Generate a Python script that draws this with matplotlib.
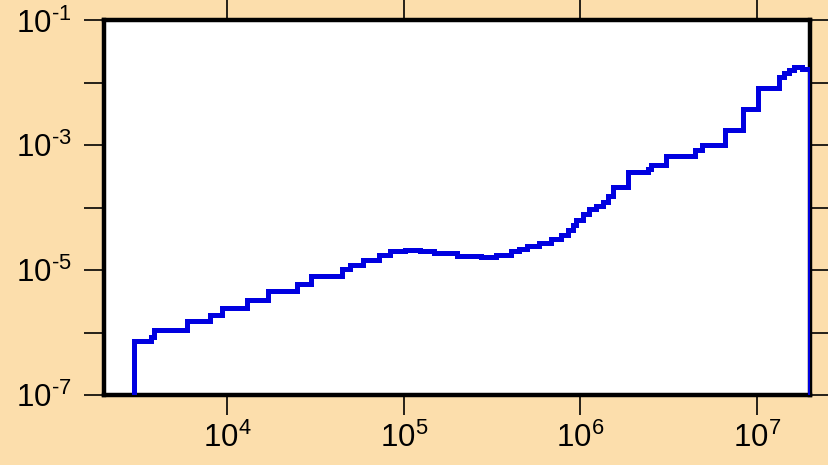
import math
import matplotlib
matplotlib.use("Agg")
import matplotlib.pyplot as plt
from matplotlib.ticker import FixedLocator, FuncFormatter, NullLocator

plt.rcParams['font.family'] = ['Liberation Sans', 'DejaVu Sans']
plt.rcParams['mathtext.fontset'] = 'custom'
plt.rcParams['mathtext.rm'] = 'Liberation Sans'
plt.rcParams['mathtext.it'] = 'Liberation Sans'
plt.rcParams['mathtext.bf'] = 'Liberation Sans'

# Histogram bin edges (x) and bin values (y)
bin_edges = [2944, 3680, 3846, 5916, 7975, 9366, 1.288e4, 1.695e4, 2.492e4, 2.993e4,
             4.49e4, 4.94e4, 5.89e4, 7.26e4, 8.36e4, 1.017e5, 1.239e5, 1.473e5, 2.003e5,
             2.718e5, 3.31e5, 4.03e5, 4.49e5, 5.01e5, 5.84e5, 6.80e5, 7.76e5, 8.47e5,
             9.04e5, 9.44e5, 1.031e6, 1.124e6, 1.227e6, 1.340e6, 1.430e6, 1.527e6,
             1.858e6, 2.415e6, 2.50e6, 3.07e6, 4.45e6, 4.86e6, 6.59e6, 8.39e6, 1.021e7,
             1.327e7, 1.417e7, 1.513e7, 1.616e7, 1.80e7, 2.0e7]
bin_values = [7.4e-7, 8.5e-7, 1.1e-6, 1.55e-6, 1.9e-6, 2.44e-6, 3.3e-6, 4.67e-6, 5.97e-6,
              8.2e-6, 1.03e-5, 1.23e-5, 1.48e-5, 1.74e-5, 2.04e-5, 2.14e-5, 2.04e-5,
              1.85e-5, 1.69e-5, 1.63e-5, 1.78e-5, 2.01e-5, 2.22e-5, 2.48e-5, 2.77e-5,
              3.21e-5, 3.63e-5, 4.37e-5, 5.25e-5, 6.3e-5, 7.87e-5, 9.46e-5, 1.07e-4,
              1.24e-4, 1.55e-4, 2.15e-4, 3.74e-4, 4.24e-4, 4.79e-4, 6.74e-4, 8.54e-4,
              1.0e-3, 1.78e-3, 3.87e-3, 8.38e-3, 1.24e-2, 1.44e-2, 1.63e-2, 1.79e-2, 1.69e-2]

x_ticks = [1e4, 1e5, 1e6, 1e7]
y_ticks = [1e-7, 1e-6, 1e-5, 1e-4, 1e-3, 1e-2, 1e-1]

bg = '#FCDEAC'
fig = plt.figure(figsize=(8.29, 4.65), dpi=100, facecolor=bg)
ax = fig.add_axes([104/829, 1 - 395/465, (810 - 104)/829, (395 - 20.5)/465])
ax.set_facecolor('white')
ax.set_xscale('log')
ax.set_yscale('log')
ax.set_xlim(2e3, 2e7)
ax.set_ylim(1e-7, 1e-1)

ax.stairs(bin_values, bin_edges, baseline=1e-7, color='#0000E0', linewidth=3.6,
          joinstyle='miter', zorder=5)

for s in ax.spines.values():
    s.set_linewidth(3.2)
    s.set_color('black')
    s.set_zorder(4)

ax.xaxis.set_major_locator(FixedLocator(x_ticks))
ax.yaxis.set_major_locator(FixedLocator(y_ticks))
ax.xaxis.set_minor_locator(NullLocator())
ax.yaxis.set_minor_locator(NullLocator())

def xfmt(v, pos):
    e = int(round(math.log10(v)))
    return r'$\mathregular{10^{%d}}$' % e

def yfmt(v, pos):
    e = int(round(math.log10(v)))
    if e % 2 == 0:
        return ''
    return r'$\mathregular{10^{‐%d}}$' % (-e)

ax.xaxis.set_major_formatter(FuncFormatter(xfmt))
ax.yaxis.set_major_formatter(FuncFormatter(yfmt))
ax.tick_params(which='major', direction='out', length=14.5, width=1.2, color='black',
               top=True, right=True, labeltop=False, labelright=False,
               labelsize=22.5, labelcolor='black')
ax.tick_params(axis='x', pad=5.5)
ax.tick_params(axis='y', pad=9)

fig.savefig('out.png', dpi=100, facecolor=bg)
